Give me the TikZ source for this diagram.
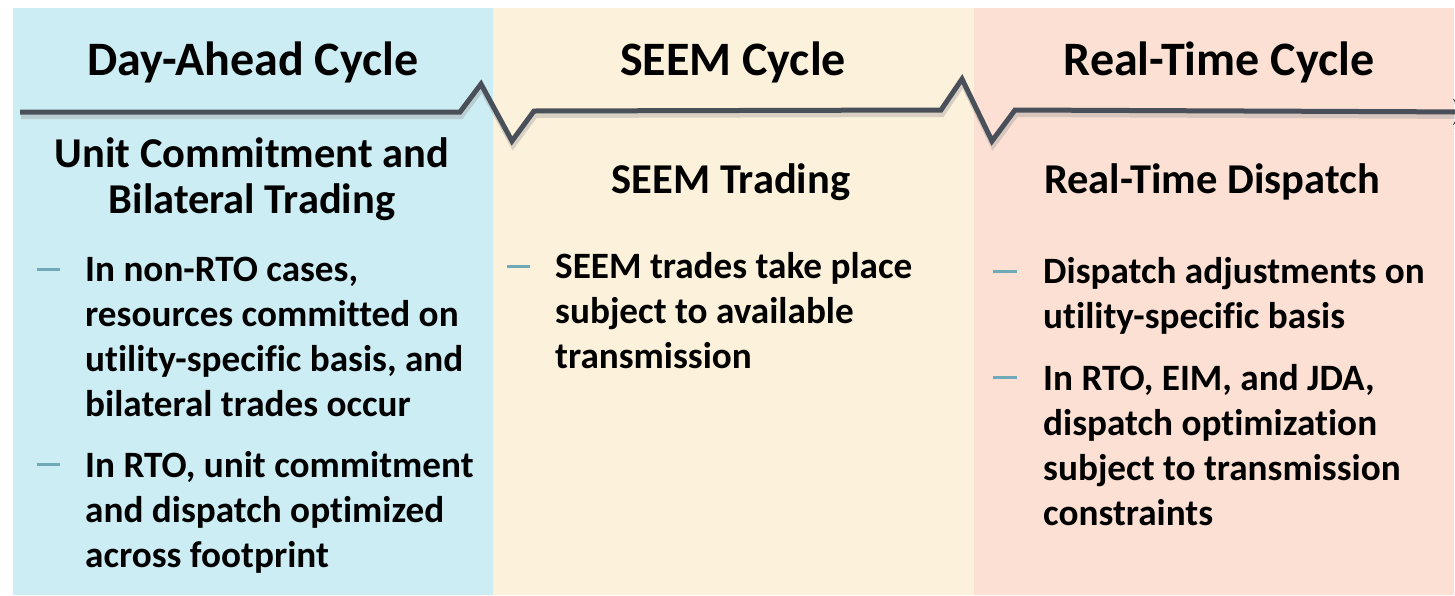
\documentclass[tikz,border=0pt]{standalone}
\usepackage{fontspec}
\setmainfont{Carlito}[Ligatures=NoCommon]
\usetikzlibrary{arrows.meta}
\definecolor{dabg}{RGB}{204,237,244}
\definecolor{seembg}{RGB}{252,242,220}
\definecolor{rtbg}{RGB}{251,224,211}
\definecolor{timeline}{RGB}{74,80,89}
\definecolor{shade}{RGB}{150,150,150}
\definecolor{dashcol}{RGB}{112,170,185}
\tikzset{
  x=1pt, y=-1pt,
  cycletitle/.style={font=\bfseries\fontsize{48}{52}\selectfont, anchor=base, inner sep=0pt},
  subhead/.style={font=\bfseries\fontsize{42.5}{46}\selectfont, anchor=base, inner sep=0pt, align=center},
  bullettext/.style={font=\bfseries\fontsize{37.2}{45}\selectfont, anchor=base west, inner sep=0pt, align=left},
  bulletdash/.style={draw=dashcol, line width=3pt},
  zigzag/.style={draw=timeline, line width=5pt, line join=miter},
}
\begin{document}
\begin{tikzpicture}
\useasboundingbox (0,0) rectangle (1455,595);
\clip (0,0) rectangle (1455,595);
% coloured panels
\fill[dabg]   (13,8)  rectangle (493,595);
\fill[seembg] (493,8) rectangle (974,595);
\fill[rtbg]   (974,8) rectangle (1454,595);

% timeline with break marks (soft shadow first)
\draw[zigzag, draw=shade, opacity=0.35, line width=6pt, -{Stealth[length=22pt,width=26pt]}]
  (21,116) -- (461,116) -- (482,88) -- (513,145) -- (535,115) -- (942,114)
  -- (963,83) -- (993,145) -- (1016,114) -- (1476,116);
\draw[zigzag, -{Stealth[length=22pt,width=26pt]}]
  (20,112) -- (460,112) -- (481,84) -- (512,141) -- (534,111) -- (941,110)
  -- (962,79) -- (992,141) -- (1015,110) -- (1475,112);

% cycle titles
\node[cycletitle] (t1) at (253,75) {Day-Ahead Cycle};
\node[cycletitle] (t2) at (733,75) {SEEM Cycle};
\node[cycletitle] (t3) at (1219,75) {Real-Time Cycle};

% sub headings (multi-line nodes sit on their last baseline)
\node[subhead] (s1) at (252,213) {Unit Commitment and\\Bilateral Trading};
\node[subhead] (s2) at (731,193) {SEEM Trading};
\node[subhead] (s3) at (1212,193) {Real-Time Dispatch};

% day-ahead bullets
\node[bullettext] (b11) at (85,416) {In non-RTO cases,\\resources committed on\\utility-specific basis, and\\bilateral trades occur};
\draw[bulletdash] (37,269) -- (60,269);
\node[bullettext] (b12) at (85,567) {In RTO, unit commitment\\and dispatch optimized\\across footprint};
\draw[bulletdash] (37,464) -- (60,464);

% SEEM bullet
\node[bullettext] (b21) at (555,368) {SEEM trades take place\\subject to available\\transmission};
\draw[bulletdash] (507,266) -- (530,266);

% real-time bullets
\node[bullettext] (b31) at (1043,328) {Dispatch adjustments on\\utility-specific basis};
\draw[bulletdash] (993,271) -- (1017,271);
\node[bullettext] (b32) at (1043,525) {In RTO, EIM, and JDA,\\dispatch optimization\\subject to transmission\\constraints};
\draw[bulletdash] (993,377) -- (1017,377);
\end{tikzpicture}
\end{document}
